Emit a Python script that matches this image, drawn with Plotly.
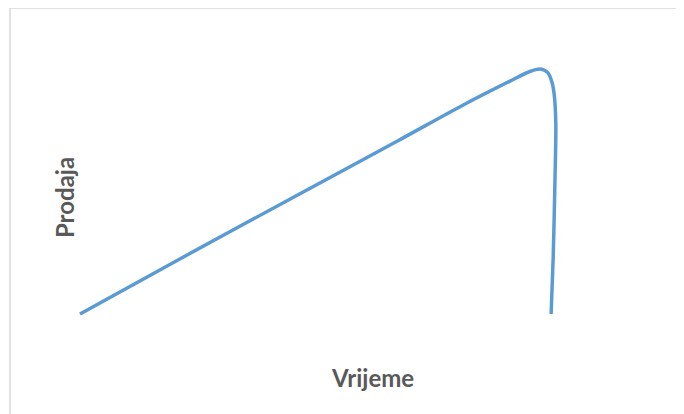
import plotly.graph_objects as go

# Sketch of sales over time: steady rise, then a sudden drop
time_vals = [0, 19.2, 42.3, 61.5, 73.7, 82.7, 86.5, 88.5, 90.0, 90.8, 91.2, 91.5, 91.3, 91.0, 90.6]
sales_vals = [0, 20.1, 43.9, 63.6, 76.3, 85.0, 88.5, 89.4, 88.0, 84.3, 79.9, 69.7, 45.3, 20.8, 0]

x_title = 'Vrijeme'
y_title = 'Prodaja'

fig = go.Figure(go.Scatter(
    x=time_vals,
    y=sales_vals,
    mode='lines',
    line=dict(color='#5B9BD5', width=3.5, shape='spline', smoothing=0.8),
    hoverinfo='skip',
))

title_font = dict(family='Lato, Open Sans, sans-serif', size=24, color='#595959')

# page body adds 8px, so margins are pulled in by 8px
fig.update_layout(
    width=684, height=414,
    margin=dict(l=52, r=92, t=32, b=98),
    paper_bgcolor='white',
    plot_bgcolor='white',
    showlegend=False,
    annotations=[
        dict(text=f'<b>{x_title}</b>', xref='paper', yref='paper', x=0.5787, y=-0.190,
             showarrow=False, font=title_font, xanchor='center', yanchor='middle'),
        dict(text=f'<b>{y_title}</b>', xref='paper', yref='paper', x=0.0074, y=0.447,
             showarrow=False, font=title_font, textangle=-90, xanchor='center', yanchor='middle'),
    ],
    # light chart-area frame, open to the right and bottom like the reference
    shapes=[
        dict(type='rect', xref='paper', yref='paper', x0=-0.0926, y0=-0.373, x1=1.185, y1=1.1127,
             line=dict(color='#D9D9D9', width=1.5), fillcolor='rgba(0,0,0,0)', layer='below'),
    ],
)

fig.update_xaxes(range=[-3.846, 100], visible=False)
fig.update_yaxes(range=[-3.65, 100], visible=False)

fig.write_html('out.html')
